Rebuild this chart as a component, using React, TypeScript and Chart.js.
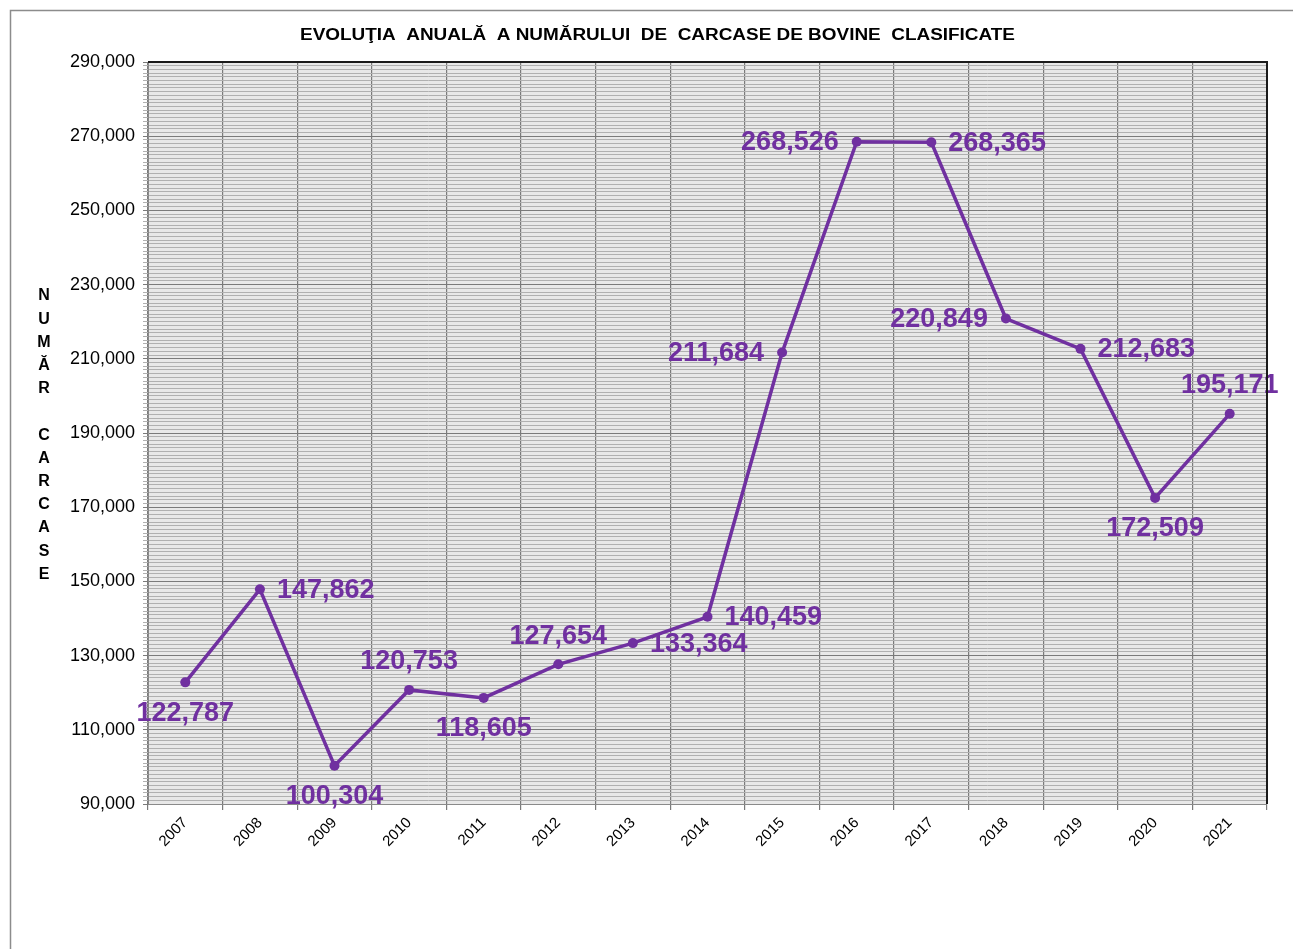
import React, { useEffect, useRef } from 'react';
import { Chart, registerables } from 'chart.js';

Chart.register(...registerables);

const years = ['2007', '2008', '2009', '2010', '2011', '2012', '2013', '2014', '2015', '2016', '2017', '2018', '2019', '2020', '2021'];
const carcase = [122787, 147862, 100304, 120753, 118605, 127654, 133364, 140459, 211684, 268526, 268365, 220849, 212683, 172509, 195171];
const labelPlacement = ['below', 'right', 'below', 'above', 'below', 'above', 'right', 'right', 'left', 'left', 'right', 'left', 'right', 'below', 'above'];
const yMin = 90000;
const yMax = 290000;
const majorStep = 20000;
const minorStep = 1000;
const titleText = 'EVOLUŢIA  ANUALĂ  A NUMĂRULUI  DE  CARCASE DE BOVINE  CLASIFICATE';
const yTitleLetters = ['N', 'U', 'M', 'Ă', 'R', '', 'C', 'A', 'R', 'C', 'A', 'S', 'E'];

const FONT = 'Arial, "Liberation Sans", sans-serif';
const PURPLE = '#7030a0';
const W = 1293;
const H = 949;

const fmt = (v: number) => Number(v).toLocaleString('en-US');
const isMajor = (v: number) => Math.abs((v - yMin) % majorStep) < 1e-6;

const decorPlugin = {
  id: 'decor',
  beforeDraw(chart: any) {
    const { ctx, chartArea } = chart;
    ctx.save();
    ctx.fillStyle = '#ffffff';
    ctx.fillRect(0, 0, chart.width, chart.height);
    ctx.strokeStyle = '#8c8c8c';
    ctx.lineWidth = 1.5;
    ctx.strokeRect(10.5, 10.5, chart.width + 20, chart.height + 20);
    ctx.fillStyle = '#e8e8e8';
    ctx.fillRect(chartArea.left, chartArea.top, chartArea.right - chartArea.left, chartArea.bottom - chartArea.top);
    ctx.restore();
  },
  afterDatasetsDraw(chart: any) {
    const { ctx } = chart;
    const meta = chart.getDatasetMeta(0);
    ctx.save();
    ctx.font = `bold 27px ${FONT}`;
    ctx.fillStyle = PURPLE;
    meta.data.forEach((pt: any, i: number) => {
      const txt = fmt(carcase[i]);
      const pos = labelPlacement[i];
      let x = pt.x;
      let y = pt.y;
      ctx.textBaseline = 'middle';
      if (pos === 'below') {
        ctx.textAlign = 'center';
        y += 30;
      } else if (pos === 'above') {
        ctx.textAlign = 'center';
        y -= 29;
      } else if (pos === 'right') {
        ctx.textAlign = 'left';
        x += 17;
      } else {
        ctx.textAlign = 'right';
        x -= 18;
      }
      ctx.fillText(txt, x, y + 1);
    });
    ctx.restore();
  },
  afterDraw(chart: any) {
    const { ctx, chartArea } = chart;
    ctx.save();
    ctx.strokeStyle = '#1a1a1a';
    ctx.lineWidth = 2;
    ctx.beginPath();
    ctx.moveTo(chartArea.left, chartArea.top);
    ctx.lineTo(chartArea.right, chartArea.top);
    ctx.lineTo(chartArea.right, chartArea.bottom);
    ctx.stroke();
    ctx.fillStyle = '#000';
    ctx.font = `bold 16px ${FONT}`;
    ctx.textAlign = 'center';
    ctx.textBaseline = 'middle';
    const tw = ctx.measureText(titleText).width;
    const targetW = 715;
    ctx.save();
    ctx.translate(657.5, 36);
    ctx.scale(targetW / tw, 1);
    ctx.fillText(titleText, 0, 0);
    ctx.restore();
    ctx.font = `bold 16px ${FONT}`;
    yTitleLetters.forEach((ch, i) => {
      if (ch) ctx.fillText(ch, 44, 296 + i * 23.2);
    });
    ctx.restore();
  },
};

export default function App() {
  const ref = useRef<HTMLCanvasElement | null>(null);
  useEffect(() => {
    if (!ref.current) return;
    const chart = new Chart(ref.current, {
      type: 'line',
      data: {
        labels: years,
        datasets: [
          {
            data: carcase,
            borderColor: PURPLE,
            backgroundColor: PURPLE,
            borderWidth: 3.5,
            pointRadius: 5,
            pointBackgroundColor: PURPLE,
            pointBorderWidth: 0,
            tension: 0,
            fill: false,
          },
        ],
      },
      options: {
        responsive: false,
        animation: false,
        devicePixelRatio: 1,
        layout: { padding: { left: 0, top: 62, right: 26, bottom: 0 } },
        plugins: { legend: { display: false }, tooltip: { enabled: false }, title: { display: false } },
        scales: {
          x: {
            type: 'category',
            offset: true,
            afterFit: (s: any) => {
              s.height = 145;
            },
            grid: { offset: true, color: '#7a7a7a', lineWidth: 1.2, tickLength: 6, drawTicks: true },
            border: { color: '#8a8a8a', width: 1 },
            ticks: {
              autoSkip: false,
              maxRotation: 45,
              minRotation: 45,
              color: '#000',
              font: { size: 15, family: FONT },
              padding: 4,
              labelOffset: 0,
            },
          },
          y: {
            type: 'linear',
            min: yMin,
            max: yMax,
            afterBuildTicks: (s: any) => {
              const t: any[] = [];
              for (let v = yMin; v <= yMax; v += minorStep) t.push({ value: v });
              s.ticks = t;
            },
            afterFit: (s: any) => {
              s.width = 148;
            },
            grid: {
              color: (c: any) => (c.tick && isMajor(c.tick.value) ? '#7a7a7a' : '#b0b0b0'),
              lineWidth: 1,
              tickLength: 5,
              drawTicks: true,
            },
            border: { color: '#8a8a8a', width: 1 },
            ticks: {
              autoSkip: false,
              color: '#000',
              font: { size: 18, family: FONT },
              padding: 8,
              callback: (v: any) => (isMajor(Number(v)) ? fmt(Number(v)) : ''),
            },
          },
        },
      },
      plugins: [decorPlugin],
    });
    return () => chart.destroy();
  }, []);
  return (
    <div style={{ position: 'fixed', left: 0, top: 0, width: W, height: H, background: '#fff' }}>
      <canvas ref={ref} width={W} height={H} style={{ width: W, height: H, display: 'block' }} />
    </div>
  );
}
